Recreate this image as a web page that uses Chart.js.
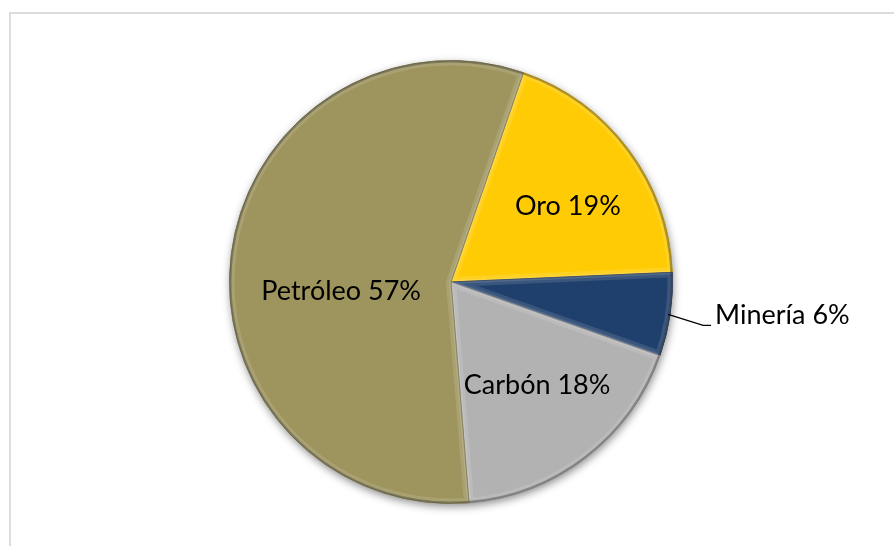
<!DOCTYPE html>
<html>
<head>
<meta charset="utf-8">
<script src="https://cdn.jsdelivr.net/npm/chart.js@4/dist/chart.umd.min.js"></script>
<style>
  html, body { margin: 0; padding: 0; background: #ffffff; }
  #wrap { position: relative; width: 894px; height: 546px; overflow: hidden; }
  #frame { position: absolute; left: 9px; top: 12px; width: 900px; height: 560px; border: 2px solid #dcdcdc; box-sizing: border-box; }
  #c { position: absolute; left: 0; top: 0; }
</style>
</head>
<body>
<div id="wrap">
  <div id="frame"></div>
  <canvas id="c" width="894" height="546"></canvas>
</div>
<script>
// ---- data ----
const categories = ['Oro', 'Minería', 'Carbón', 'Petróleo'];
const shares = [19.0, 6.1, 18.3, 56.6];
const percentLabels = ['19%', '6%', '18%', '57%'];

// ---- styling ----
const sliceColors = ['#FFCB05', '#1F3F6C', '#B2B2B2', '#9E955E'];
const edgeColors  = ['#B08A00', '#0F2440', '#7A7A7A', '#6B6538'];
const labelRadiusFrac = [0.63, null, 0.6, 0.5]; // null = outside with leader line
const labelNudge = [[5, 8], [0, 0], [5, -2], [0, 23]];
const FONT = '27px Lato, "Open Sans", sans-serif';

const shadowPlugin = {
  id: 'pieShadow',
  beforeDatasetsDraw(chart) {
    const arc = chart.getDatasetMeta(0).data[0];
    if (!arc) return;
    const { x, y, outerRadius } = arc.getProps(['x', 'y', 'outerRadius'], true);
    const ctx = chart.ctx;
    ctx.save();
    ctx.shadowColor = 'rgba(0,0,0,0.45)';
    ctx.shadowBlur = 9;
    ctx.shadowOffsetX = 1;
    ctx.shadowOffsetY = 3;
    ctx.beginPath();
    ctx.arc(x, y, outerRadius, 0, Math.PI * 2);
    ctx.fillStyle = '#888';
    ctx.fill();
    ctx.restore();
  }
};

const bevelPlugin = {
  id: 'bevel',
  afterDatasetsDraw(chart) {
    const ctx = chart.ctx;
    chart.getDatasetMeta(0).data.forEach((arc) => {
      const { x, y, startAngle, endAngle, outerRadius } =
        arc.getProps(['x', 'y', 'startAngle', 'endAngle', 'outerRadius'], true);
      ctx.save();
      ctx.beginPath();
      ctx.moveTo(x, y);
      ctx.arc(x, y, outerRadius, startAngle, endAngle);
      ctx.closePath();
      ctx.clip();
      ctx.lineJoin = 'round';
      ctx.strokeStyle = 'rgba(255,255,255,0.12)';
      ctx.lineWidth = 10;
      ctx.stroke();
      ctx.strokeStyle = 'rgba(255,255,255,0.12)';
      ctx.lineWidth = 4;
      ctx.stroke();
      ctx.beginPath();
      ctx.arc(x, y, outerRadius - 1, startAngle, endAngle);
      ctx.strokeStyle = 'rgba(0,0,0,0.3)';
      ctx.lineWidth = 2;
      ctx.stroke();
      ctx.restore();
    });
  }
};

const labelPlugin = {
  id: 'sliceLabels',
  afterDatasetsDraw(chart) {
    const ctx = chart.ctx;
    ctx.save();
    ctx.font = FONT;
    ctx.fillStyle = '#000';
    chart.getDatasetMeta(0).data.forEach((arc, i) => {
      const { x, y, startAngle, endAngle, outerRadius } =
        arc.getProps(['x', 'y', 'startAngle', 'endAngle', 'outerRadius'], true);
      const mid = (startAngle + endAngle) / 2;
      const text = categories[i] + ' ' + percentLabels[i];
      const f = labelRadiusFrac[i];
      if (f !== null) {
        ctx.textAlign = 'center';
        ctx.textBaseline = 'middle';
        ctx.fillText(text,
          x + Math.cos(mid) * outerRadius * f + labelNudge[i][0],
          y + Math.sin(mid) * outerRadius * f + labelNudge[i][1]);
      } else {
        const ex = x + Math.cos(mid) * (outerRadius - 2);
        const ey = y + Math.sin(mid) * (outerRadius - 2);
        const bx = ex + 35, by = ey + 11;
        const tx = bx + 8;
        ctx.beginPath();
        ctx.moveTo(ex, ey);
        ctx.lineTo(bx, by);
        ctx.lineTo(tx, by);
        ctx.strokeStyle = '#000';
        ctx.lineWidth = 1.3;
        ctx.stroke();
        ctx.textAlign = 'left';
        ctx.textBaseline = 'alphabetic';
        ctx.fillText(text, tx + 4, by - 1);
      }
    });
    ctx.restore();
  }
};

new Chart(document.getElementById('c'), {
  type: 'pie',
  data: {
    labels: categories,
    datasets: [{
      data: shares,
      backgroundColor: sliceColors,
      borderColor: edgeColors,
      borderWidth: 1
    }]
  },
  options: {
    responsive: false,
    animation: false,
    rotation: 19.1,
    layout: { padding: { top: 60, bottom: 42, left: 229, right: 221 } },
    plugins: {
      legend: { display: false },
      tooltip: { enabled: false }
    }
  },
  plugins: [shadowPlugin, bevelPlugin, labelPlugin]
});
</script>
</body>
</html>
